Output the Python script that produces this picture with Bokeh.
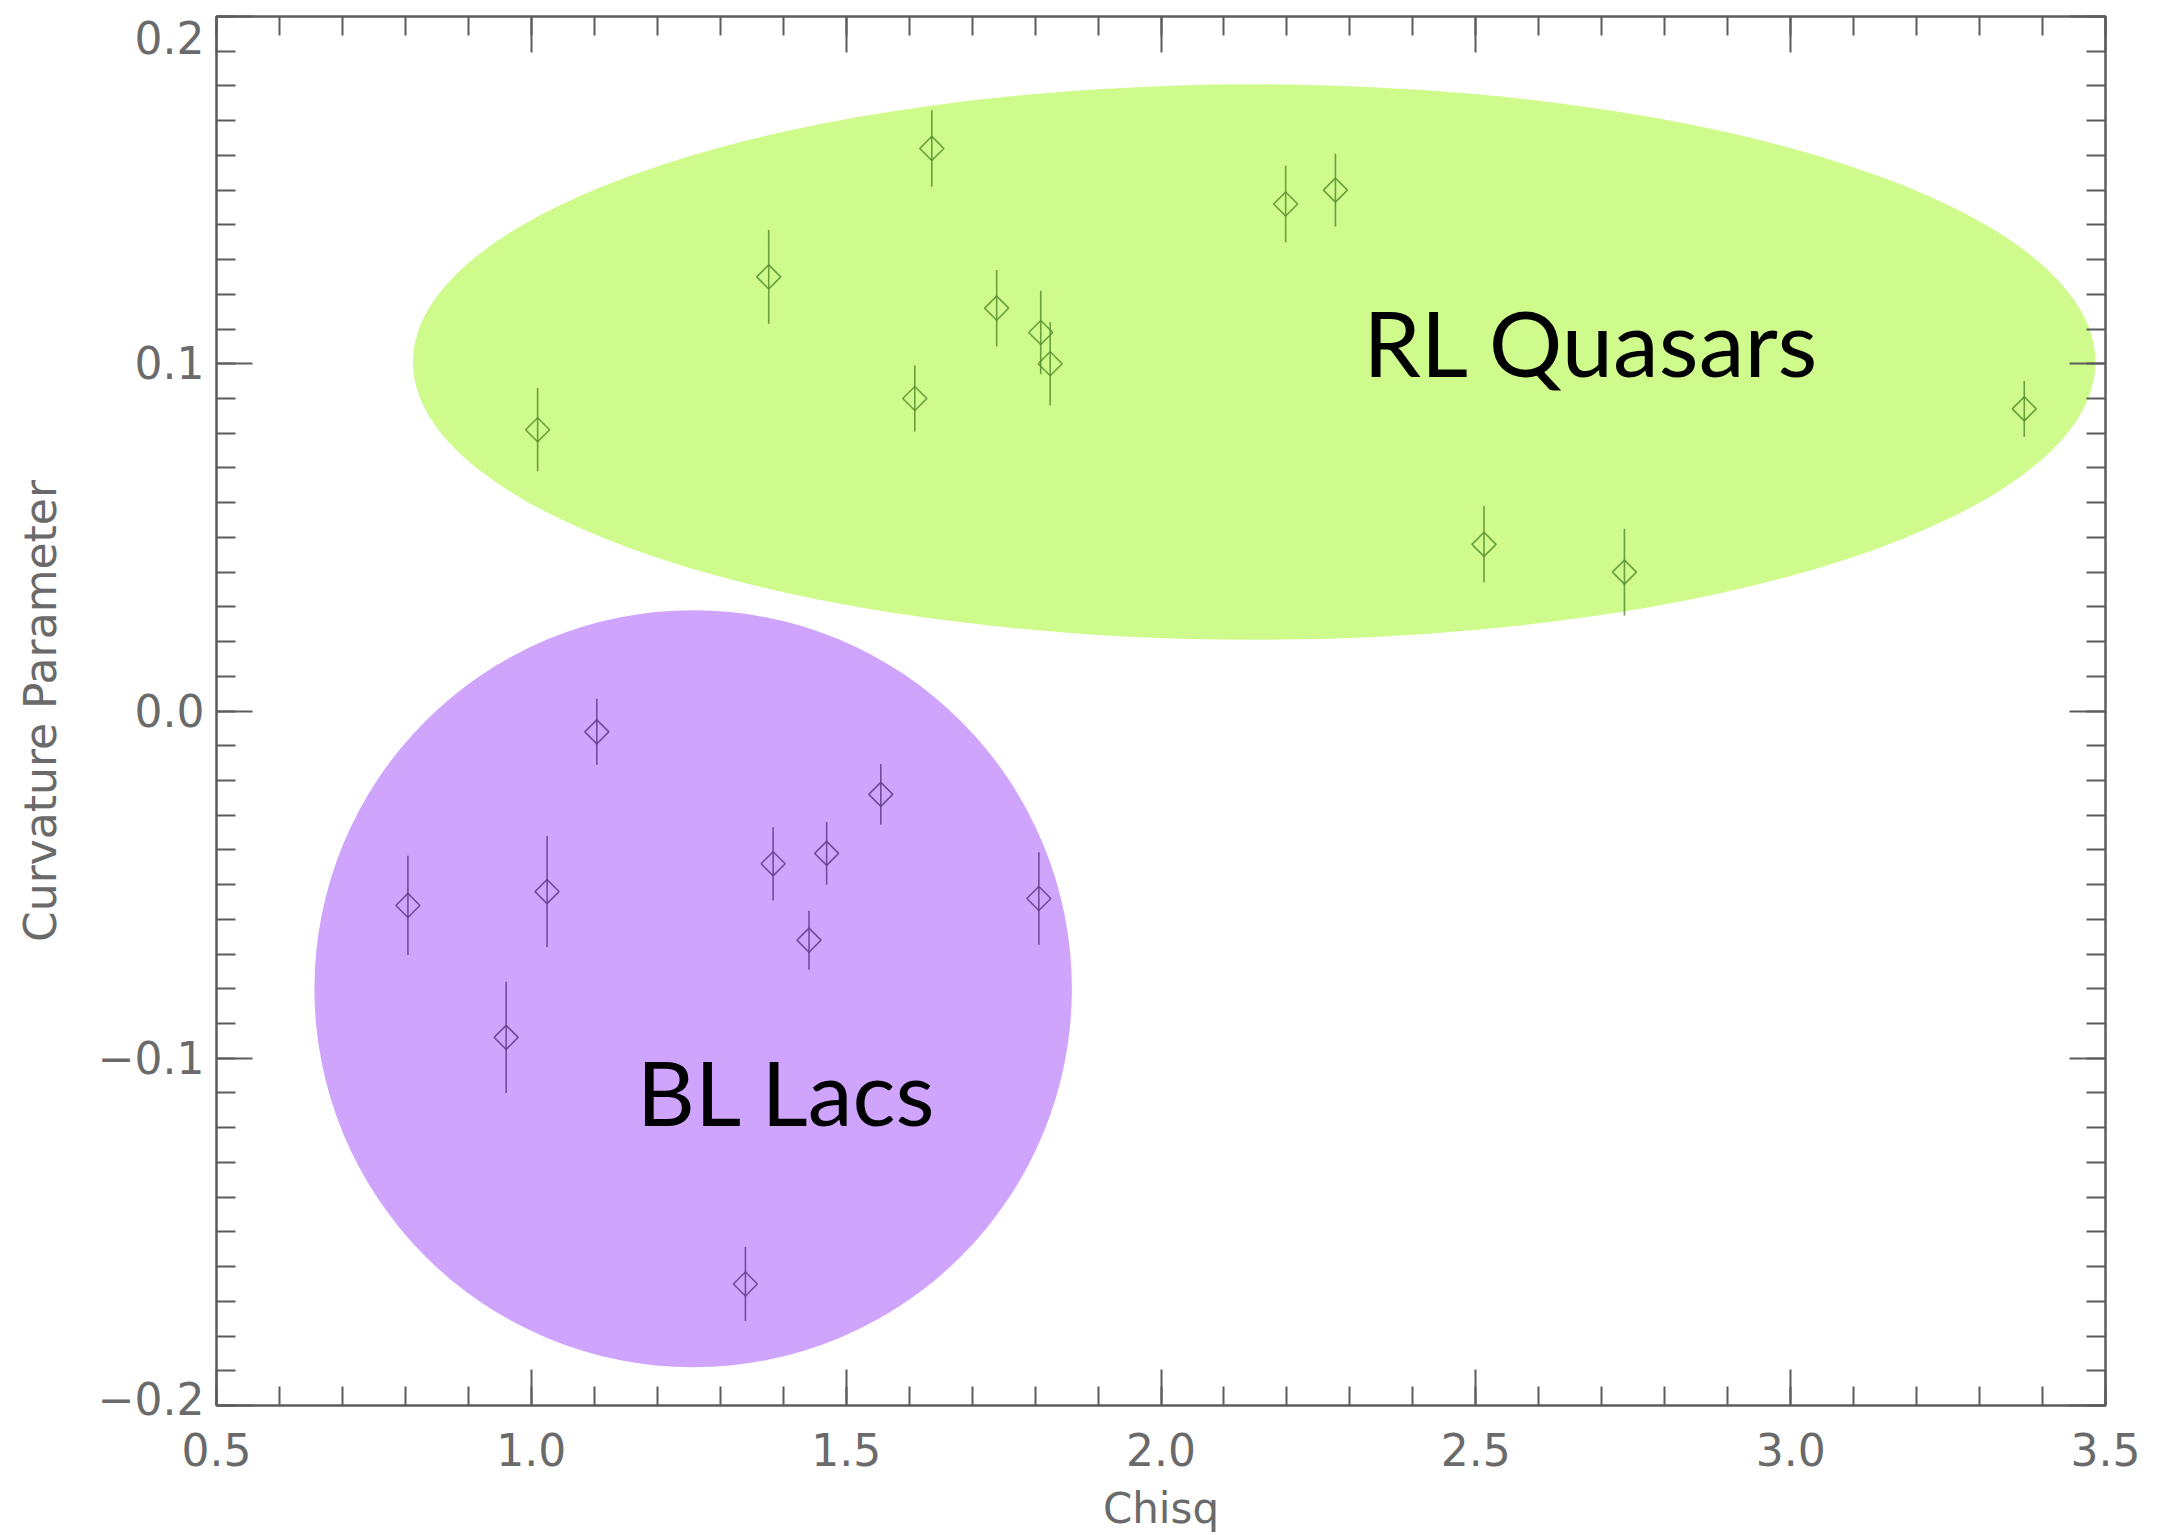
import numpy as np
from bokeh.plotting import figure
from bokeh.models import (Range1d, LinearAxis, SingleIntervalTicker,
                          CustomJSTickFormatter, ColumnDataSource, Label)
from bokeh.embed import file_html
from bokeh.resources import INLINE

# ---- data ----
rlq_chisq = [1.010, 1.377, 1.636, 1.609, 1.739, 1.809, 1.824, 2.198, 2.277, 2.513, 2.736, 3.371]
rlq_curv = [0.081, 0.125, 0.162, 0.090, 0.116, 0.109, 0.100, 0.146, 0.150, 0.048, 0.040, 0.087]
rlq_err = [0.012, 0.0135, 0.011, 0.0095, 0.011, 0.012, 0.012, 0.011, 0.0105, 0.011, 0.0125, 0.008]

bll_chisq = [0.804, 0.960, 1.025, 1.104, 1.340, 1.384, 1.441, 1.469, 1.555, 1.806]
bll_curv = [-0.056, -0.094, -0.052, -0.006, -0.165, -0.044, -0.066, -0.041, -0.024, -0.054]
bll_err = [0.0143, 0.016, 0.016, 0.0095, 0.0107, 0.0105, 0.0085, 0.009, 0.0087, 0.0133]

region_names = ["RL Quasars", "BL Lacs"]
region_x = [2.148, 1.257]
region_y = [0.1005, -0.080]
region_w = [2.672, 1.203]
region_h = [0.160, 0.218]

x_lo, x_hi = 0.5, 3.5
y_lo, y_hi = -0.2, 0.2
x_ticks_interval = 0.5
y_ticks_interval = 0.1
x_title = "Chisq"
y_title = "Curvature Parameter"

AX = "#5c5c5c"
LBL = "#6a6a6a"
TICK_FONT = "44px"

p = figure(width=2160, height=1535,
           x_range=Range1d(x_lo, x_hi), y_range=Range1d(y_lo, y_hi),
           output_backend="svg", toolbar_location=None,
           min_border_left=216, min_border_right=55,
           min_border_top=16, min_border_bottom=130)
p.grid.visible = False
p.outline_line_color = AX
p.outline_line_width = 2
p.background_fill_color = "white"
p.border_fill_color = "white"

fmt_x = CustomJSTickFormatter(code="""
    const s = Math.abs(tick).toFixed(1);
    return tick < -1e-9 ? '\u2212' + s : s;
""")
# as in the original, the end labels of the y axis sit inside the axis extent:
# an empty extra line pushes them towards the plot centre
fmt_y = CustomJSTickFormatter(code="""
    const s = Math.abs(tick).toFixed(1);
    const t = tick < -1e-9 ? '\u2212' + s : s;
    if (tick > 0.2 - 1e-9) return '\\n' + t;
    if (tick < -0.2 + 1e-9) return t + '\\n';
    return t;
""")
blank = CustomJSTickFormatter(code="return '';")


def style(ax, ticker, formatter=None):
    ax.ticker = ticker
    ax.axis_line_color = AX
    ax.axis_line_width = 2
    ax.major_tick_in = 36
    ax.major_tick_out = 0
    ax.minor_tick_in = 19
    ax.minor_tick_out = 0
    ax.major_tick_line_color = AX
    ax.major_tick_line_width = 2
    ax.minor_tick_line_color = AX
    ax.minor_tick_line_width = 2
    ax.major_label_text_font = "DejaVu Sans"
    ax.major_label_text_font_size = TICK_FONT
    ax.major_label_text_color = LBL
    ax.axis_label_text_font = "DejaVu Sans"
    ax.axis_label_text_font_size = "42px"
    ax.axis_label_text_font_style = "normal"
    ax.axis_label_text_color = LBL
    if formatter is not None:
        ax.formatter = formatter
    else:
        ax.formatter = blank
        ax.major_label_text_font_size = "0px"
        ax.major_label_standoff = 0


xt = lambda: SingleIntervalTicker(interval=x_ticks_interval, num_minor_ticks=5)
yt = lambda: SingleIntervalTicker(interval=y_ticks_interval, num_minor_ticks=10)

style(p.xaxis[0], xt(), fmt_x)
p.xaxis[0].axis_label = x_title
p.xaxis[0].major_label_standoff = 27
p.xaxis[0].axis_label_standoff = 15

style(p.yaxis[0], yt(), fmt_y)
p.yaxis[0].axis_label = y_title
p.yaxis[0].axis_label_text_font_size = "44px"
p.yaxis[0].major_label_standoff = 12
p.yaxis[0].axis_label_standoff = 29
p.yaxis[0].major_label_text_line_height = 0.25

top = LinearAxis()
style(top, xt())
p.add_layout(top, "above")
right = LinearAxis()
style(right, yt())
p.add_layout(right, "right")

# regions
p.ellipse(x=region_x[0], y=region_y[0], width=region_w[0], height=region_h[0],
          fill_color="#cefb8c", line_color=None)
p.ellipse(x=region_x[1], y=region_y[1], width=region_w[1], height=region_h[1],
          fill_color="#cfa4fc", line_color=None)

# data with error bars
for xs, ys, es, col in [(rlq_chisq, rlq_curv, rlq_err, "#578f2f"),
                        (bll_chisq, bll_curv, bll_err, "#5f3d8a")]:
    xs = np.array(xs); ys = np.array(ys); es = np.array(es)
    src = ColumnDataSource(dict(x=xs, y=ys, lo=ys - es, hi=ys + es))
    p.segment(x0="x", y0="lo", x1="x", y1="hi", source=src,
              line_color=col, line_width=1.6, line_alpha=0.85)
    p.scatter(x="x", y="y", source=src, marker="square", angle=np.pi / 4,
              size=17, fill_color=None, line_color=col, line_width=1.6,
              line_alpha=0.85)

p.add_layout(Label(x=2.684, y=0.1065, text=region_names[0],
                   text_font="Lato", text_font_size="92px",
                   text_color="black", text_align="center",
                   text_baseline="middle"))
p.add_layout(Label(x=1.406, y=-0.1095, text=region_names[1],
                   text_font="Lato", text_font_size="90px",
                   text_color="black", text_align="center",
                   text_baseline="middle"))

open("out.html", "w").write(file_html(p, INLINE))
